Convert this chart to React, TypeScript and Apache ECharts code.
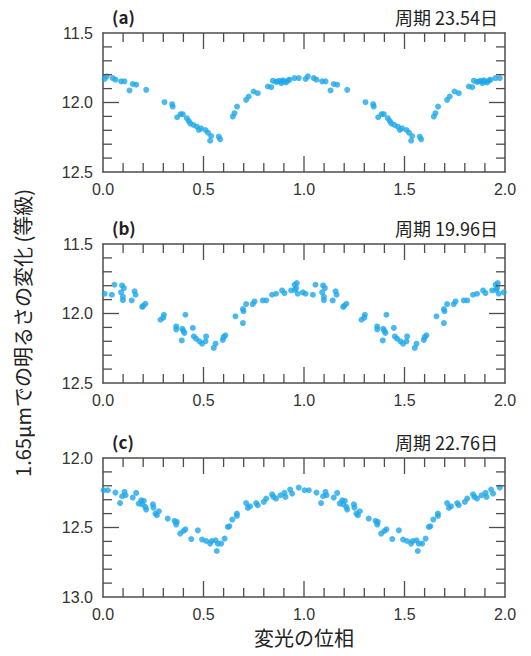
import React, { useEffect, useRef } from "react";
import * as echarts from "echarts";

// Panel (a): one folded cycle (phase, magnitude)
const phaseA = [0.008, 0.019, 0.049, 0.062, 0.09, 0.107, 0.132, 0.148, 0.165, 0.215, 0.306, 0.344, 0.347, 0.369, 0.386, 0.397, 0.417, 0.427, 0.434, 0.45, 0.467, 0.477, 0.488, 0.51, 0.522, 0.538, 0.533, 0.576, 0.583, 0.646, 0.654, 0.667, 0.712, 0.725, 0.749, 0.77, 0.82, 0.837, 0.845, 0.87, 0.887, 0.895, 0.911, 0.928, 0.953, 0.974, 0.88, 0.9, 0.92, 0.86];
const magA = [11.831, 11.812, 11.824, 11.836, 11.848, 11.848, 11.913, 11.867, 11.872, 11.909, 11.998, 12.012, 12.029, 12.106, 12.084, 12.084, 12.113, 12.133, 12.15, 12.162, 12.174, 12.198, 12.186, 12.198, 12.217, 12.241, 12.275, 12.246, 12.265, 12.101, 12.077, 12.029, 11.981, 11.957, 11.921, 11.933, 11.885, 11.89, 11.843, 11.848, 11.86, 11.841, 11.855, 11.836, 11.824, 11.824, 11.845, 11.85, 11.842, 11.852];

// Panel (b)
const phaseB = [0.008, 0.044, 0.057, 0.095, 0.104, 0.09, 0.099, 0.099, 0.143, 0.157, 0.162, 0.195, 0.211, 0.286, 0.303, 0.364, 0.364, 0.394, 0.41, 0.405, 0.392, 0.447, 0.452, 0.463, 0.493, 0.513, 0.51, 0.551, 0.56, 0.596, 0.609, 0.659, 0.696, 0.696, 0.699, 0.712, 0.745, 0.754, 0.795, 0.812, 0.841, 0.861, 0.891, 0.903, 0.936, 0.953, 0.964, 0.961, 0.969, 0.994, 0.3, 0.2, 0.4, 0.48, 0.6, 0.955];
const magB = [11.858, 11.865, 11.793, 11.798, 11.817, 11.848, 11.88, 11.904, 11.906, 11.84, 11.865, 11.953, 11.93, 12.045, 12.009, 12.093, 12.114, 12.11, 12.009, 12.14, 12.194, 12.104, 12.165, 12.181, 12.217, 12.165, 12.2, 12.248, 12.217, 12.19, 12.157, 12.02, 11.968, 12.069, 11.984, 11.932, 11.932, 11.913, 11.906, 11.906, 11.865, 11.858, 11.834, 11.853, 11.834, 11.793, 11.781, 11.817, 11.858, 11.848, 12.03, 11.945, 12.125, 12.2, 12.17, 11.83];

// Panel (c)
const phaseC = [0.003, 0.024, 0.062, 0.085, 0.095, 0.112, 0.107, 0.148, 0.165, 0.178, 0.19, 0.195, 0.203, 0.211, 0.215, 0.248, 0.251, 0.261, 0.278, 0.268, 0.322, 0.356, 0.364, 0.367, 0.384, 0.4, 0.41, 0.439, 0.472, 0.493, 0.513, 0.533, 0.541, 0.56, 0.566, 0.571, 0.588, 0.605, 0.621, 0.629, 0.643, 0.666, 0.666, 0.712, 0.721, 0.732, 0.762, 0.77, 0.8, 0.812, 0.841, 0.848, 0.861, 0.883, 0.903, 0.908, 0.931, 0.941, 0.974];
const magC = [12.232, 12.232, 12.249, 12.324, 12.275, 12.268, 12.244, 12.285, 12.251, 12.328, 12.304, 12.333, 12.309, 12.352, 12.371, 12.333, 12.357, 12.4, 12.383, 12.412, 12.436, 12.453, 12.479, 12.46, 12.544, 12.525, 12.513, 12.583, 12.52, 12.587, 12.597, 12.616, 12.597, 12.592, 12.669, 12.616, 12.616, 12.58, 12.496, 12.491, 12.443, 12.4, 12.417, 12.324, 12.359, 12.347, 12.324, 12.34, 12.316, 12.292, 12.261, 12.28, 12.292, 12.268, 12.251, 12.28, 12.227, 12.256, 12.213];

const panelLetters = ["(a)", "(b)", "(c)"];
const periods = ["周期 23.54日", "周期 19.96日", "周期 22.76日"];
const yMins = [11.5, 11.5, 12.0];
const yMaxs = [12.5, 12.5, 13.0];
const xMin = 0;
const xMax = 2;
const labelStep = 0.5;
const tickStep = 0.1;
const yAxisTitle = "1.65μmでの明るさの変化 (等級)";
const xAxisTitle = "変光の位相";

const phases = [phaseA, phaseB, phaseC];
const mags = [magA, magB, magC];

const tops = [33, 244, 458];
const H = 139;
const LEFT = 103;
const W = 402;
const AX = "#4d4d4d";
const DOT = "#1ea8e8";
const CJK = "'Noto Sans CJK JP', 'Noto Sans', sans-serif";
const MAJOR_LEN = 16;
const MINOR_LEN = 9;
const TICK_W = 1.3;

function folded(ph: number[], mg: number[]) {
  const out: number[][] = [];
  ph.forEach((p, i) => out.push([p, mg[i]]));
  ph.forEach((p, i) => out.push([p + 1, mg[i]]));
  return out;
}

// Tick marks on all four sides, drawn as thin rect symbols placed by the axes' scales
function tickMarks(yMin: number, yMax: number) {
  const items: any[] = [];
  const per = Math.round(labelStep / tickStep);
  const nx = Math.round((xMax - xMin) / tickStep);
  for (let k = 1; k < nx; k++) {
    const v = xMin + k * tickStep;
    const L = k % per === 0 ? MAJOR_LEN : MINOR_LEN;
    items.push({ value: [v, yMax], symbolSize: [TICK_W, L], symbolOffset: [0, -L / 2] });
    items.push({ value: [v, yMin], symbolSize: [TICK_W, L], symbolOffset: [0, L / 2] });
  }
  const ny = Math.round((yMax - yMin) / tickStep);
  for (let k = 1; k < ny; k++) {
    const v = yMin + k * tickStep;
    const L = k % per === 0 ? MAJOR_LEN : MINOR_LEN;
    items.push({ value: [xMin, v], symbolSize: [L, TICK_W], symbolOffset: [L / 2, 0] });
    items.push({ value: [xMax, v], symbolSize: [L, TICK_W], symbolOffset: [-L / 2, 0] });
  }
  return items;
}

export default function App() {
  const ref = useRef<HTMLDivElement>(null);
  useEffect(() => {
    if (!ref.current) return;
    const chart = echarts.init(ref.current, undefined, { renderer: "svg" });
    const grid: any[] = [];
    const xAxis: any[] = [];
    const yAxis: any[] = [];
    const series: any[] = [];
    const title: any[] = [];
    const mkCommon = (i: number) => ({
      type: "value",
      gridIndex: i,
      splitLine: { show: false },
      axisLine: { show: true, onZero: false, lineStyle: { color: AX, width: 1.5 } },
      axisTick: { show: false },
      minorTick: { show: false },
    });
    const mkLabel = () => ({
      show: true,
      color: "#333",
      fontSize: 16,
      fontFamily: "'Liberation Sans', Arial, sans-serif",
      formatter: (v: number) => v.toFixed(1),
    });
    for (let i = 0; i < 3; i++) {
      const yMin = yMins[i];
      const yMax = yMaxs[i];
      grid.push({ left: LEFT, width: W, top: tops[i], height: H });
      const xBottom: any = {
        ...mkCommon(i),
        position: "bottom",
        min: xMin,
        max: xMax,
        interval: labelStep,
        axisLabel: { ...mkLabel(), margin: 9 },
      };
      if (i === 2) {
        xBottom.name = xAxisTitle;
        xBottom.nameLocation = "middle";
        xBottom.nameGap = 30;
        xBottom.nameTextStyle = { fontSize: 20, color: "#222", fontFamily: CJK };
      }
      const yLeft: any = {
        ...mkCommon(i),
        position: "left",
        inverse: true,
        min: yMin,
        max: yMax,
        interval: labelStep,
        axisLabel: { ...mkLabel(), margin: 10 },
      };
      if (i === 1) {
        yLeft.name = yAxisTitle;
        yLeft.nameLocation = "middle";
        yLeft.nameRotate = 90;
        yLeft.nameGap = 71;
        yLeft.nameTextStyle = { fontSize: 20, color: "#222", fontFamily: CJK, padding: [0, 39, 0, 0] };
      }
      xAxis.push(xBottom);
      yAxis.push(yLeft);
      const xi = xAxis.length - 1;
      const yi = yAxis.length - 1;
      series.push({
        type: "scatter",
        xAxisIndex: xi,
        yAxisIndex: yi,
        symbolSize: 6,
        itemStyle: { color: DOT },
        z: 3,
        data: folded(phases[i], mags[i]),
      });
      series.push({
        type: "scatter",
        xAxisIndex: xi,
        yAxisIndex: yi,
        symbol: "rect",
        silent: true,
        clip: false,
        z: 4,
        itemStyle: { color: AX, opacity: 1 },
        emphasis: { disabled: true },
        data: tickMarks(yMin, yMax),
      });
      xAxis.push({ ...mkCommon(i), position: "top", min: xMin, max: xMax, interval: labelStep, axisLabel: { show: false } });
      yAxis.push({ ...mkCommon(i), position: "right", inverse: true, min: yMin, max: yMax, interval: labelStep, axisLabel: { show: false } });
      series.push({ type: "scatter", xAxisIndex: xAxis.length - 1, yAxisIndex: yAxis.length - 1, data: [] });
      title.push({
        text: panelLetters[i],
        left: 112,
        top: tops[i] - 25,
        padding: 0,
        textStyle: { fontSize: 17, fontWeight: "bold", color: "#222", fontFamily: CJK },
      });
      title.push({
        text: periods[i],
        right: 33,
        top: tops[i] - 25,
        padding: 0,
        textStyle: { fontSize: 18, fontWeight: "normal", color: "#222", fontFamily: CJK },
      });
    }
    chart.setOption({
      animation: false,
      title,
      grid,
      xAxis,
      yAxis,
      series,
    });
    return () => chart.dispose();
  }, []);
  return <div ref={ref} style={{ position: "absolute", left: 0, top: 0, width: 531, height: 656 }} />;
}
